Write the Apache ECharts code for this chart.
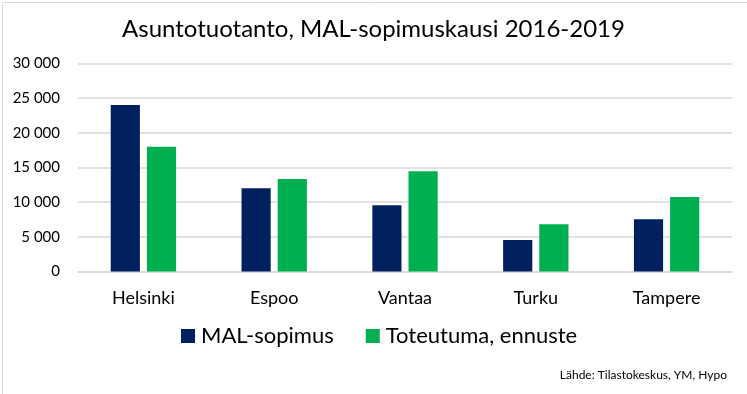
<!DOCTYPE html>
<html><head><meta charset="utf-8">
<script src="https://cdn.jsdelivr.net/npm/echarts@6/dist/echarts.min.js"></script>
<style>html,body{margin:0;padding:0;background:#fff}#c{width:747px;height:394px}</style>
</head><body><div id="c"></div>
<script>
const categories = ['Helsinki', 'Espoo', 'Vantaa', 'Turku', 'Tampere'];
const malSopimus = [24000, 12000, 9550, 4550, 7550];
const toteutuma = [18000, 13350, 14450, 6800, 10750];
const seriesNames = ['MAL-sopimus', 'Toteutuma, ennuste'];
const titleText = 'Asuntotuotanto, MAL-sopimuskausi 2016-2019';
const sourceText = 'Lähde: Tilastokeskus, YM, Hypo';
const FONT = 'Lato';

const chart = echarts.init(document.getElementById('c'), null, {renderer: 'canvas'});
chart.setOption({
  animation: false,
  textStyle: {fontFamily: FONT},
  title: {
    text: titleText, left: 117, top: 12,
    textStyle: {fontFamily: FONT, fontSize: 24, fontWeight: 'normal', color: '#000'}
  },
  legend: {
    left: 176, top: 320, itemWidth: 14, itemHeight: 14, itemGap: 32,
    icon: 'rect',
    textStyle: {fontFamily: FONT, fontSize: 22, color: '#000', padding: [0, 0, 0, 1]},
    data: seriesNames
  },
  grid: {left: 78, right: 15, top: 63.5, bottom: 122.5, containLabel: false},
  xAxis: {
    type: 'category', data: categories,
    axisLine: {lineStyle: {color: '#D9D9D9', width: 1.5}},
    axisTick: {show: false},
    axisLabel: {fontFamily: FONT, fontSize: 18, color: '#000', margin: 18}
  },
  yAxis: {
    type: 'value', min: 0, max: 30000, interval: 5000,
    axisLine: {show: false}, axisTick: {show: false},
    splitLine: {lineStyle: {color: '#D9D9D9', width: 1.5}},
    axisLabel: {
      fontFamily: FONT, fontSize: 15, color: '#000', margin: 18,
      formatter: v => v === 0 ? '0' : String(v).replace(/\B(?=(\d{3})+(?!\d))/g, ' ')
    }
  },
  series: [
    {name: seriesNames[0], type: 'bar', data: malSopimus, barWidth: '22.3%', barGap: '24%',
     itemStyle: {color: '#002060'}},
    {name: seriesNames[1], type: 'bar', data: toteutuma, barWidth: '22.3%',
     itemStyle: {color: '#00B050'}}
  ],
  graphic: [
    {type: 'rect', left: 0, top: 0, shape: {x: 0.5, y: 0.5, width: 746, height: 393},
     style: {fill: 'none', stroke: '#D9D9D9', lineWidth: 1}, silent: true},
    {type: 'text', right: 20, top: 369,
     style: {text: sourceText, font: '12px ' + FONT, fill: '#000'}}
  ]
});
</script></body></html>
